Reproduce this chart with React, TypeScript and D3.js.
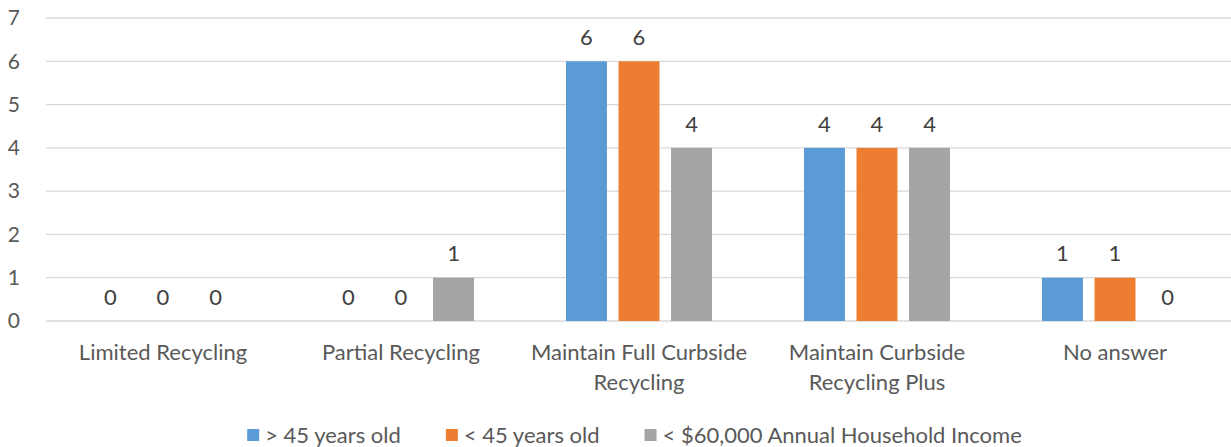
import { useEffect, useRef } from 'react'
import * as d3 from 'd3'

const categories = [
  'Limited Recycling',
  'Partial Recycling',
  'Maintain Full Curbside Recycling',
  'Maintain Curbside Recycling Plus',
  'No answer',
]
const seriesNames = ['> 45 years old', '< 45 years old', '< $60,000 Annual Household Income']
const over45 = [0, 0, 6, 4, 1]
const under45 = [0, 0, 6, 4, 1]
const lowIncome = [0, 1, 4, 4, 0]
const seriesColors = ['#5b9bd5', '#ed7d31', '#a5a5a5']
const yTicks = [0, 1, 2, 3, 4, 5, 6, 7]

const FONT = 'Lato, sans-serif'

export default function App() {
  const svgRef = useRef<SVGSVGElement>(null)

  useEffect(() => {
    document.body.style.margin = '0'
    if (!svgRef.current) return
    const svg = d3.select(svgRef.current)
    svg.selectAll('*').remove()

    const width = 1231
    const height = 447
    const margin = { top: 18, right: 0, bottom: 125, left: 46 }
    svg.attr('width', width).attr('height', height)

    const values = [over45, under45, lowIncome]

    const x0 = d3.scaleBand<string>()
      .domain(categories)
      .range([44, 1234])
      .padding(0)

    const bw = x0.bandwidth()
    const x1 = d3.scaleBand<string>()
      .domain(seriesNames)
      .range([bw / 2 - 73, bw / 2 + 73])
      .paddingInner(0.22)

    const y = d3.scaleLinear()
      .domain([0, 7])
      .range([height - margin.bottom - 1, margin.top])

    // gridlines
    svg.append('g')
      .selectAll('line')
      .data(yTicks)
      .join('line')
      .attr('x1', margin.left)
      .attr('x2', width - margin.right)
      .attr('y1', d => y(d))
      .attr('y2', d => y(d))
      .attr('stroke', '#d9d9d9')
      .attr('stroke-width', 1.3)

    // y tick labels
    svg.append('g')
      .selectAll('text')
      .data(yTicks)
      .join('text')
      .attr('x', 20)
      .attr('y', d => y(d))
      .attr('dy', '0.35em')
      .attr('text-anchor', 'end')
      .attr('fill', '#595959')
      .style('font-family', FONT)
      .style('font-size', '21px')
      .text(d => d)

    // bars
    const groups = svg.append('g')
      .selectAll('g')
      .data(categories)
      .join('g')
      .attr('transform', d => `translate(${x0(d)},0)`)

    groups.each(function (cat, ci) {
      const g = d3.select(this)
      seriesNames.forEach((s, si) => {
        const v = values[si][ci]
        g.append('rect')
          .attr('x', x1(s)!)
          .attr('width', x1.bandwidth())
          .attr('y', y(v))
          .attr('height', y(0) - y(v))
          .attr('fill', seriesColors[si])
        g.append('text')
          .attr('x', x1(s)! + x1.bandwidth() / 2)
          .attr('y', y(v) - 24)
          .attr('dy', '0.35em')
          .attr('text-anchor', 'middle')
          .attr('fill', '#404040')
          .style('font-family', FONT)
          .style('font-size', '22px')
          .text(v)
      })
    })

    // category labels with wrapping
    const maxW = 232
    categories.forEach(cat => {
      const cx = x0(cat)! + bw / 2
      const t = svg.append('text')
        .attr('text-anchor', 'middle')
        .attr('fill', '#595959')
        .style('font-family', FONT)
        .style('font-size', '22px')
      const words = cat.split(' ')
      const lines: string[] = []
      let cur = ''
      words.forEach(w => {
        const test = cur ? cur + ' ' + w : w
        t.text(test)
        if ((t.node() as SVGTextElement).getComputedTextLength() > maxW && cur) {
          lines.push(cur)
          cur = w
        } else {
          cur = test
        }
      })
      lines.push(cur)
      t.text(null)
      lines.forEach((ln, i) => {
        t.append('tspan')
          .attr('x', cx)
          .attr('y', 352 + i * 30)
          .attr('dy', '0.35em')
          .text(ln)
      })
    })

    // legend
    const legend = svg.append('g')
    let lx = 0
    seriesNames.forEach((s, i) => {
      const item = legend.append('g').attr('transform', `translate(${lx},0)`)
      item.append('rect')
        .attr('x', 0)
        .attr('y', 429)
        .attr('width', 12)
        .attr('height', 12)
        .attr('fill', seriesColors[i])
      const txt = item.append('text')
        .attr('x', 18)
        .attr('y', 435)
        .attr('dy', '0.35em')
        .attr('fill', '#595959')
        .style('font-family', FONT)
        .style('font-size', '22px')
        .text(s)
      const tw = (txt.node() as SVGTextElement).getComputedTextLength()
      lx += 18 + tw + 45
    })
    const total = lx - 45
    legend.attr('transform', `translate(${634.5 - total / 2},0)`)
  }, [])

  return (
    <div>
      <svg ref={svgRef} style={{ display: 'block' }}></svg>
    </div>
  )
}
